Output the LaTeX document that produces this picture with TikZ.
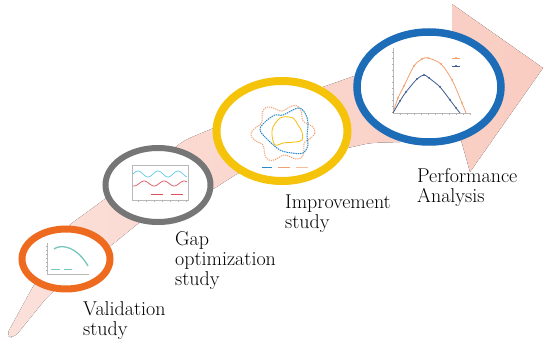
\documentclass[tikz,border=0pt]{standalone}
\usepackage{xcolor}
\usetikzlibrary{shapes.geometric,shadows,positioning}

\definecolor{arrowpink}{RGB}{249,204,193}
\definecolor{valorange}{RGB}{238,106,30}
\definecolor{gapgray}{RGB}{118,118,118}
\definecolor{impyellow}{RGB}{245,196,10}
\definecolor{perfblue}{RGB}{28,108,184}
\definecolor{curveteal}{RGB}{120,198,188}
\definecolor{curvecyan}{RGB}{95,200,228}
\definecolor{curvered}{RGB}{222,80,92}
\definecolor{curveorange}{RGB}{242,160,112}
\definecolor{curveblue}{RGB}{40,140,200}
\definecolor{curvenavy}{RGB}{60,90,140}

\begin{document}
\begin{tikzpicture}[x=1pt,y=-1pt,
  stage/.style={ellipse,draw,fill=white,inner sep=0pt,
    drop shadow={opacity=.22,shadow xshift=.6pt,shadow yshift=-2pt,shadow scale=1.03}},
  lbl/.style={align=left,anchor=north west,inner sep=0pt,font=\fontsize{20}{20}\selectfont},
  axis/.style={draw=black!28,line width=.4pt},
  tick/.style={draw=black!30,line width=.3pt}
]
\useasboundingbox (0,0) rectangle (550,347);

% big arrow behind the stages
\fill[left color=arrowpink!60,right color=arrowpink,rounded corners=6pt]
  (6,336) -- (30,292) -- (68,226) -- (120,188) -- (185,140) -- (228,122)
  -- (320,88) -- (360,74) -- (452,62) [sharp corners] -- (452,4) -- (543,68)
  -- (470,172) -- (461,140) [rounded corners=6pt] -- (370,143) -- (240,172)
  -- (212,190) -- (140,222) -- (113,244) -- (48,296) -- (14,338) -- cycle;

% stages
\node[stage,draw=valorange,line width=7pt,minimum width=88pt,minimum height=60pt] (val) at (66,259) {};
\node[stage,draw=gapgray,line width=6pt,minimum width=105pt,minimum height=74pt] (gap) at (158,185) {};
\node[stage,draw=impyellow,line width=8pt,minimum width=131pt,minimum height=100pt] (imp) at (282,131) {};
\node[stage,draw=perfblue,line width=7.5pt,minimum width=144pt,minimum height=110pt] (perf) at (429,87) {};

% validation plot
\draw[axis] (47,243) -- (47,274) -- (89,274);
\foreach \y in {246,250,...,270} \draw[tick] (46,\y) -- (48,\y);
\draw[curveteal,line width=1.3pt] (54,249) .. controls (62,243) and (78,248) .. (88,266);
\draw[curveteal,line width=.5pt] (51,269) -- (60,269) (64,269) -- (72,269);

% gap plot
\draw[axis] (132,165) rectangle (188,200);
\foreach \x in {138,146,...,186} \draw[tick] (\x,200) -- (\x,202);
\draw[curvecyan,line width=.7pt] plot[domain=133:187,samples=80] (\x,{174-3*sin(18*(\x-133))});
\draw[curvered,line width=.7pt] plot[domain=133:187,samples=80] (\x,{183.5+2.5*sin(18*(\x-133)+70)});
\draw[curvered,line width=.4pt] (151,194) -- (163,194) (171,194) -- (183,194);

% improvement radar
\draw[curveorange,line width=1pt,dash pattern=on 1.2pt off 1pt]
  plot[domain=0:360,samples=121] ({283+(28+4*cos(6*\x+20))*cos(\x)},{133+(26+4*cos(6*\x+20))*sin(\x)});
\draw[curveblue,line width=1pt,dash pattern=on 1.5pt off .8pt] plot[smooth cycle,tension=.6] coordinates
  {(283,115) (298,108) (305,113) (308,123) (307,137) (308,145) (303,153) (292,153) (280,150) (268,140) (260,130) (265,122) (275,115)};
\draw[impyellow!90!orange,line width=.8pt] plot[smooth cycle,tension=.6] coordinates
  {(283,117) (293,118) (298,125) (302,132) (302,140) (295,142) (283,143) (275,145) (272,135) (273,127) (278,120)};
\draw[curveblue,line width=.5pt] (262,167) -- (272,167);
\draw[curveorange,line width=.5pt] (278,167) -- (290,167);
\draw[curveorange!70,line width=.5pt] (296,167) -- (308,167);

% performance plot
\draw[axis] (393,48) -- (393,113) -- (470,113);
\foreach \y in {52,58,...,112} \draw[tick] (392,\y) -- (394,\y);
\foreach \x in {400,407,...,470} \draw[tick] (\x,113) -- (\x,115);
\draw[curveorange,line width=.8pt] plot[smooth,tension=.5] coordinates
  {(393,113) (398,98) (404,86) (414,66) (422,59) (428,58) (441,64) (452,80) (462,103) (466,113)};
\foreach \p in {(398,98),(404,86),(414,66),(422,59),(428,58),(441,64),(452,80),(462,103)}
  \fill[curveorange] \p circle (1pt);
\draw[curvenavy,line width=.8pt] plot[smooth,tension=.5] coordinates
  {(393,113) (400,101) (406,92) (417,79) (424,75) (429,78) (440,87) (450,100) (456,108) (460,113)};
\foreach \p in {(400,101),(406,92),(417,79),(424,75),(429,78),(440,87),(450,100),(456,108)}
  \fill[curvenavy] \p circle (1pt);
\draw[curveorange,line width=.5pt] (452,58) -- (460,58); \fill[curveorange] (456,58) circle (1pt);
\draw[curvenavy,line width=.5pt] (452,66) -- (460,66); \fill[curvenavy] (456,66) circle (1pt);

% labels
\node[lbl] (valtxt) at (83,301) {Validation\\study};
\node[lbl] (gaptxt) at (175,231.3) {Gap\\optimization\\study};
\node[lbl] (imptxt) at (285,194.3) {Improvement\\study};
\node[lbl] (perftxt) at (417,167.9) {Performance\\Analysis};
\end{tikzpicture}
\end{document}
